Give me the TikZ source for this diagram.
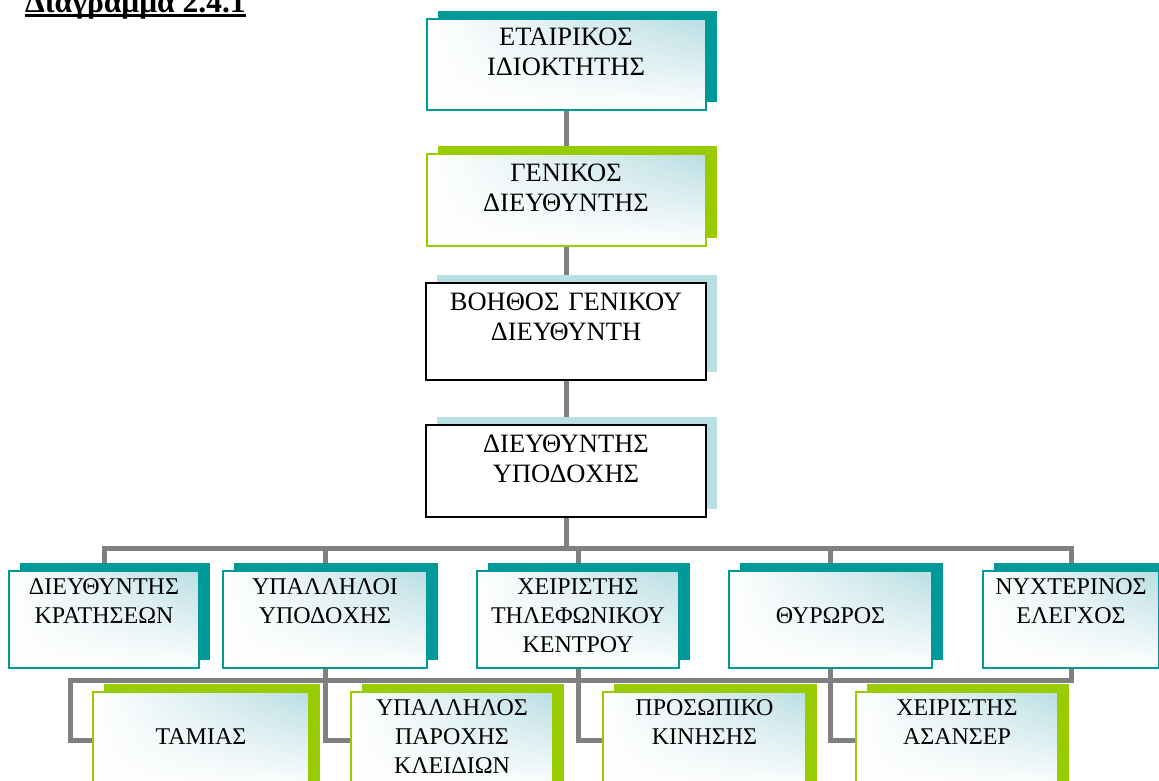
\documentclass[tikz,border=0pt]{standalone}
\usepackage{fontspec}
\setmainfont{Liberation Serif}
\usepackage{tikz}
\usetikzlibrary{shadows}
\usetikzlibrary{fadings}
\usetikzlibrary{backgrounds}

\definecolor{tealshade}{RGB}{0,153,153}
\definecolor{limeshade}{RGB}{153,204,0}
\definecolor{paleshade}{RGB}{185,222,227}
\definecolor{linkgray}{RGB}{128,128,128}

\tikzset{
    card/.style={draw=#1, line width=2pt, inner sep=0pt, align=center,
        drop shadow={shadow xshift=11pt, shadow yshift=8pt, opacity=1, fill=#1},
        preaction={left color=white, right color=paleshade},
        preaction={fill=white, path fading=north}},
    whitecard/.style={draw=black, line width=2.5pt, inner sep=0pt, align=center, fill=white,
        drop shadow={shadow xshift=11pt, shadow yshift=8pt, opacity=1, fill=paleshade}},
    chief/.style={font=\fontsize{26.5}{30}\selectfont, text width=279pt, text height=27pt},
    unit/.style={font=\fontsize{24}{29}\selectfont, text height=23pt, text depth=74pt},
    single/.style={text height=52pt, text depth=45pt},
    link/.style={draw=linkgray, line width=5pt}
}

\begin{document}
\begin{tikzpicture}[x=1pt, y=-1pt]
    \useasboundingbox (0,0) rectangle (1159,781);

    \node[anchor=base west, inner sep=0pt, font=\bfseries\fontsize{31.5}{36}\selectfont] (title) at (25,13) {Διάγραμμα 2.4.1};
    \draw[line width=3pt] ([yshift=-2.5pt]title.base west) -- ([yshift=-2.5pt]title.base east);

    % management chain
    \node[card=tealshade, chief, text depth=64pt] (owner) at (566,64.5) {ΕΤΑΙΡΙΚΟΣ\\ΙΔΙΟΚΤΗΤΗΣ};
    \node[card=limeshade, chief, text depth=65pt] (gm) at (566,200) {ΓΕΝΙΚΟΣ\\ΔΙΕΥΘΥΝΤΗΣ};
    \node[whitecard, chief, text width=280pt, text depth=70pt] (agm) at (566,331.5) {ΒΟΗΘΟΣ ΓΕΝΙΚΟΥ\\ΔΙΕΥΘΥΝΤΗ};
    \node[whitecard, chief, text width=280pt, text depth=65pt] (frontmgr) at (566,471) {ΔΙΕΥΘΥΝΤΗΣ\\ΥΠΟΔΟΧΗΣ};

    % first row
    \node[card=tealshade, unit, text width=190pt] (reserv) at (104,619.5) {ΔΙΕΥΘΥΝΤΗΣ\\ΚΡΑΤΗΣΕΩΝ};
    \node[card=tealshade, unit, text width=204pt] (recep) at (325,619.5) {ΥΠΑΛΛΗΛΟΙ\\ΥΠΟΔΟΧΗΣ};
    \node[card=tealshade, unit, text width=202pt] (phone) at (578,619.5) {ΧΕΙΡΙΣΤΗΣ\\ΤΗΛΕΦΩΝΙΚΟΥ\\ΚΕΝΤΡΟΥ};
    \node[card=tealshade, unit, single, text width=203pt] (porter) at (830.5,619.5) {ΘΥΡΩΡΟΣ};
    \node[card=tealshade, unit, text width=176pt] (night) at (1071,619.5) {ΝΥΧΤΕΡΙΝΟΣ\\ΕΛΕΓΧΟΣ};

    % second row
    \node[card=limeshade, unit, single, text width=216pt] (cashier) at (201,740.5) {ΤΑΜΙΑΣ};
    \node[card=limeshade, unit, text width=202pt] (keys) at (452,740.5) {ΥΠΑΛΛΗΛΟΣ\\ΠΑΡΟΧΗΣ\\ΚΛΕΙΔΙΩΝ};
    \node[card=limeshade, unit, text width=203pt] (staff) at (704.5,740.5) {ΠΡΟΣΩΠΙΚΟ\\ΚΙΝΗΣΗΣ};
    \node[card=limeshade, unit, text width=202pt] (lift) at (957,740.5) {ΧΕΙΡΙΣΤΗΣ\\ΑΣΑΝΣΕΡ};

    \coordinate (upbus) at (566,548);
    \coordinate (lowbus) at (70,680);

    \begin{scope}[on background layer]
        \draw[link] (owner) -- (gm);
        \draw[link] (gm) -- (agm);
        \draw[link] (agm) -- (frontmgr);
        \draw[link] (frontmgr.south) -- (upbus);
        \draw[link] (reserv.north) |- (upbus) -| (night.north);
        \foreach \n in {recep,phone,porter}
            \draw[link] (\n.north) -- (\n.north |- upbus);
        \draw[link] (cashier.west) -| (lowbus) -| (night.south);
        \draw[link] (recep.south) |- (keys.west);
        \draw[link] (phone.south) |- (staff.west);
        \draw[link] (porter.south) |- (lift.west);
    \end{scope}
\end{tikzpicture}
\end{document}
